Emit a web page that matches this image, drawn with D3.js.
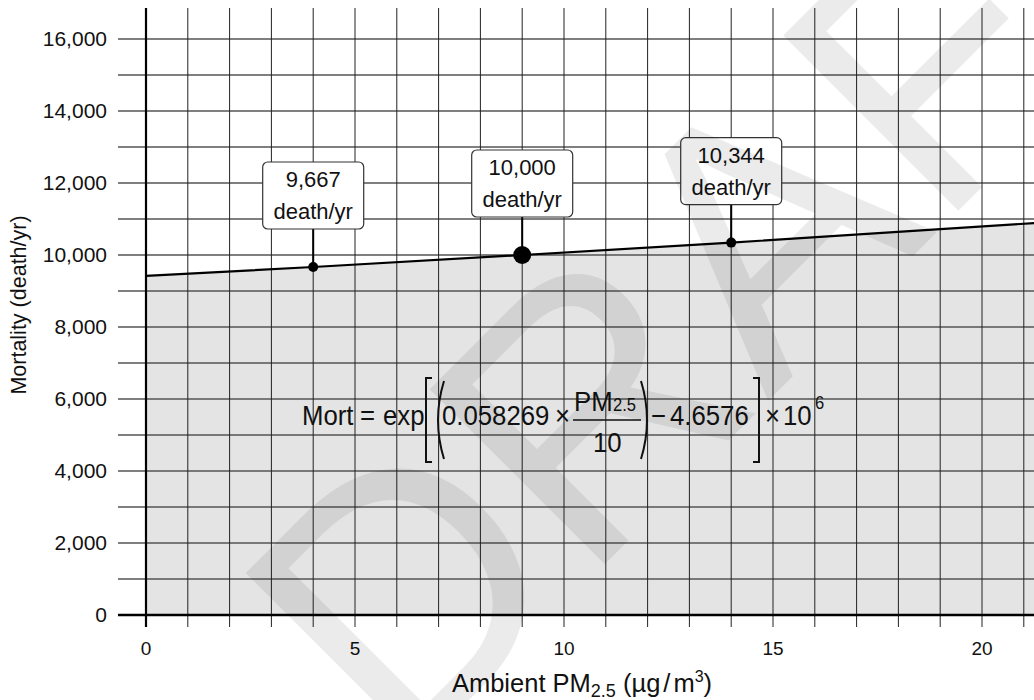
<!DOCTYPE html>
<html>
<head>
<meta charset="utf-8">
<script src="https://cdn.jsdelivr.net/npm/d3@7"></script>
<style>
  html, body { margin: 0; padding: 0; background: #fff; }
  svg { display: block; font-family: "Liberation Sans", Arial, Helvetica, sans-serif; }
</style>
</head>
<body>
<svg id="chart" width="1034" height="700"></svg>
<script>
// ---- data ----
const xMajorTicks = [0, 5, 10, 15, 20];
const xMinorTicks = d3.range(0, 22, 1);
const yTicks = [0, 2000, 4000, 6000, 8000, 10000, 12000, 14000, 16000];
const yMinorTicks = d3.range(0, 17000, 1000);
const linePM = [0, 4, 9, 14, 21.3];
const lineMort = [9420, 9667, 10000, 10344, 10890];
const markPM = [4, 9, 14];
const markMort = [9667, 10000, 10344];
const markLabels = ["9,667", "10,000", "10,344"];
const markBig = [false, true, false];
const markUnit = "death/yr";

const svg = d3.select("#chart");
const W = 1034, H = 700;

const x = d3.scaleLinear().domain([0, 20]).range([146, 982]);
const y = d3.scaleLinear().domain([0, 16000]).range([615, 39]);
const yTop = 8, xRight = W + 2;

svg.append("defs").append("clipPath").attr("id", "plotclip")
  .append("rect").attr("x", x(0)).attr("y", yTop).attr("width", xRight - x(0)).attr("height", y(0) - yTop);

const lineData = linePM.map((d, i) => [d, lineMort[i]]);

// area under curve
svg.append("path")
  .datum(lineData)
  .attr("clip-path", "url(#plotclip)")
  .attr("fill", "#e4e4e4")
  .attr("d", d3.area().x(d => x(d[0])).y0(y(0)).y1(d => y(d[1])));

// horizontal grid
svg.append("g").selectAll("line").data(yMinorTicks).join("line")
  .attr("x1", 118).attr("x2", xRight)
  .attr("y1", d => y(d)).attr("y2", d => y(d))
  .attr("stroke", "#555").attr("stroke-width", 1.3);

// vertical grid
svg.append("g").selectAll("line").data(xMinorTicks).join("line")
  .attr("x1", d => x(d)).attr("x2", d => x(d))
  .attr("y1", yTop).attr("y2", 627)
  .attr("stroke", "#222").attr("stroke-width", 1);

// axes lines
svg.append("line").attr("x1", x(0)).attr("x2", x(0)).attr("y1", yTop).attr("y2", 627)
  .attr("stroke", "#000").attr("stroke-width", 2.2);
svg.append("line").attr("x1", 118).attr("x2", xRight).attr("y1", y(0)).attr("y2", y(0))
  .attr("stroke", "#000").attr("stroke-width", 2.5);

// y tick labels
svg.append("g").selectAll("text").data(yTicks).join("text")
  .attr("x", 107).attr("y", d => y(d) + 7)
  .attr("text-anchor", "end").attr("font-size", 21).attr("fill", "#111")
  .text(d => d3.format(",")(d));

// x tick labels
svg.append("g").selectAll("text").data(xMajorTicks).join("text")
  .attr("x", d => x(d)).attr("y", 655)
  .attr("text-anchor", "middle").attr("font-size", 19).attr("fill", "#111")
  .text(d => d);

// axis titles
svg.append("text")
  .attr("transform", "translate(26,305) rotate(-90)")
  .attr("text-anchor", "middle").attr("font-size", 21.5).attr("fill", "#111")
  .text("Mortality (death/yr)");

const xt = svg.append("text").attr("x", 582).attr("y", 692)
  .attr("text-anchor", "middle").attr("font-size", 25.5).attr("fill", "#111");
xt.append("tspan").text("Ambient PM");
xt.append("tspan").attr("font-size", 18).attr("dy", 5).text("2.5");
xt.append("tspan").attr("dy", -5).text(" (µg");
xt.append("tspan").attr("dx", 3).text("/");
xt.append("tspan").attr("dx", 3).text("m");
xt.append("tspan").attr("font-size", 16).attr("dy", -10).text("3");
xt.append("tspan").attr("dy", 10).text(")");

// line
svg.append("path")
  .datum(lineData)
  .attr("clip-path", "url(#plotclip)")
  .attr("fill", "none").attr("stroke", "#000").attr("stroke-width", 2.2)
  .attr("d", d3.line().x(d => x(d[0])).y(d => y(d[1])));

// annotations
const boxW = 101, boxH = 67, gap = 38;
const ann = svg.append("g").selectAll("g").data(markPM.map((d, i) => ({pm: d, m: markMort[i], lab: markLabels[i], big: markBig[i]})))
  .join("g");
ann.append("line")
  .attr("x1", d => x(d.pm)).attr("x2", d => x(d.pm))
  .attr("y1", d => y(d.m)).attr("y2", d => y(d.m) - gap)
  .attr("stroke", "#000").attr("stroke-width", 2);
ann.append("rect")
  .attr("x", d => x(d.pm) - boxW / 2).attr("y", d => y(d.m) - gap - boxH)
  .attr("width", boxW).attr("height", boxH).attr("rx", 5)
  .attr("fill", "#fff").attr("stroke", "#333").attr("stroke-width", 1.2);
ann.append("text")
  .attr("x", d => x(d.pm)).attr("y", d => y(d.m) - gap - boxH + 25)
  .attr("text-anchor", "middle").attr("font-size", 22).attr("fill", "#111")
  .text(d => d.lab);
ann.append("text")
  .attr("x", d => x(d.pm)).attr("y", d => y(d.m) - gap - boxH + 57)
  .attr("text-anchor", "middle").attr("font-size", 22).attr("fill", "#111")
  .text(markUnit);
ann.append("circle")
  .attr("cx", d => x(d.pm)).attr("cy", d => y(d.m))
  .attr("r", d => d.big ? 9 : 5).attr("fill", "#000");

// equation
const eq = svg.append("g").attr("fill", "#111");
function eqText(str, ex, ey, fs) {
  return eq.append("text")
    .attr("transform", `translate(${ex},${ey}) scale(0.92,1)`)
    .attr("font-size", fs || 28).text(str);
}
eqText("Mort", 302, 425);
eqText("=", 360, 425);
eqText("exp", 383, 425);
eqText("0.058269", 442, 425);
eqText("×", 555, 425);
eqText("PM", 574, 411);
eqText("2.5", 613, 411, 18);
eqText("10", 593, 452);
eqText("−", 651, 425);
eqText("4.6576", 670, 425);
eqText("×", 765, 425);
eqText("10", 783, 425);
eqText("6", 815, 409, 18);
eq.append("line").attr("x1", 573).attr("x2", 641).attr("y1", 420).attr("y2", 420)
  .attr("stroke", "#111").attr("stroke-width", 1.5);
eq.append("path").attr("fill", "none").attr("stroke", "#111").attr("stroke-width", 2)
  .attr("d", "M432,378 L426,378 L426,462 L432,462");
eq.append("path").attr("fill", "none").attr("stroke", "#111").attr("stroke-width", 2)
  .attr("d", "M753,378 L759,378 L759,462 L753,462");
eq.append("path").attr("fill", "none").attr("stroke", "#111").attr("stroke-width", 2)
  .attr("d", "M444,381 Q432,420 444,459");
eq.append("path").attr("fill", "none").attr("stroke", "#111").attr("stroke-width", 2)
  .attr("d", "M641,381 Q653,420 641,459");

// watermark
svg.append("text")
  .attr("transform", "translate(400,769) rotate(-45)")
  .attr("font-size", 360).attr("fill", "#000").attr("fill-opacity", 0.08)
  .text("DRAFT");
</script>
</body>
</html>
